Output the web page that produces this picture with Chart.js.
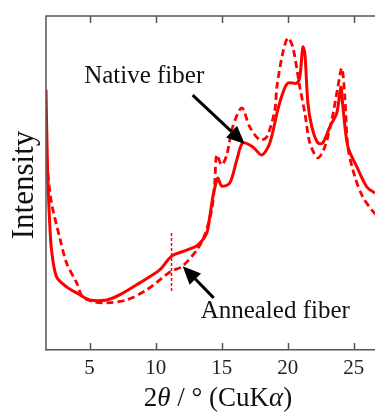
<!DOCTYPE html>
<html>
<head>
<meta charset="utf-8">
<script src="https://cdn.jsdelivr.net/npm/chart.js@4.4.1/dist/chart.umd.min.js"></script>
<style>
  html, body { margin: 0; padding: 0; background: #fff; }
  #wrap { width: 375px; height: 412px; position: relative; }
</style>
</head>
<body>
<div id="wrap"><canvas id="xrd"></canvas></div>
<script>
// --- data (2theta in degrees, intensity in arbitrary units 0-100) ---
const nativeTheta = [1.70, 1.82, 1.97, 2.12, 2.50, 3.26, 4.02, 5.0, 6.29, 7.27, 8.79, 10.30, 11.21, 12.35, 13.18,
    13.86, 14.09, 14.32, 14.47, 14.70, 15.0, 15.61, 16.14, 16.59, 17.35, 18.03, 18.64, 19.24, 19.62, 20.0,
    20.68, 20.91, 21.14, 21.29, 21.52, 21.82, 22.27, 22.65, 23.18, 23.71, 24.02, 24.17, 24.55, 25.23, 25.98, 26.6];
const nativeIntensity = [78.0, 53.9, 38.9, 29.9, 21.9, 18.9, 17.1, 15.0, 15.0, 16.5, 20.1, 24.0, 28.1, 29.9, 31.4,
    35.0, 39.8, 45.8, 48.5, 51.5, 49.1, 50.0, 56.9, 62.0, 60.8, 58.4, 62.0, 71.9, 76.9, 79.9,
    79.9, 81.7, 90.7, 88.9, 74.0, 66.8, 62.0, 62.0, 66.8, 71.0, 78.7, 72.8, 60.8, 54.8, 48.8, 47.0];

const annealedTheta = [1.59, 1.67, 1.82, 2.12, 2.73, 3.26, 4.02, 4.47, 5.38, 6.29, 7.80, 9.32, 11.21, 11.97, 13.11,
    13.71, 14.24, 14.47, 14.62, 15.0, 15.38, 15.83, 16.52, 17.12, 17.88, 18.41, 19.02, 19.17, 19.62, 20.0,
    20.38, 20.91, 21.29, 21.67, 22.27, 22.80, 23.33, 23.79, 24.09, 24.32, 24.55, 25.08, 25.68, 26.36, 26.8];
const annealedIntensity = [80.2, 65.9, 53.9, 44.0, 33.8, 26.0, 20.1, 15.9, 14.4, 14.1, 15.0, 18.0, 23.7, 24.9, 29.9,
    34.4, 41.9, 50.0, 58.4, 55.4, 58.4, 66.8, 72.5, 66.8, 62.9, 63.8, 71.9, 78.7, 88.9, 93.4,
    90.7, 78.7, 71.0, 62.0, 57.5, 60.8, 68.9, 78.7, 84.4, 75.7, 60.8, 51.8, 45.8, 41.9, 40.1];

// dotted marker line near 11.2 deg
const markerTheta = [11.2, 11.2];
const markerIntensity = [35.0, 17.4];

const xTicks = [5, 10, 15, 20, 25];

const toPoints = (xs, ys) => xs.map((x, i) => ({ x, y: ys[i] }));

const RED = '#ff0000';
const SERIF = '"Liberation Serif", "DejaVu Serif", serif';

// frame, inward ticks, labels, arrows and axis titles
const decor = {
    id: 'decor',
    afterDraw(chart) {
        const { ctx, chartArea: a, scales: { x, y } } = chart;
        ctx.save();

        // frame (left, top) - bottom comes from the x axis border
        ctx.strokeStyle = '#555';
        ctx.lineWidth = 1.5;
        ctx.beginPath();
        ctx.moveTo(a.left, a.bottom);
        ctx.lineTo(a.left, a.top);
        ctx.lineTo(a.right, a.top);
        // inward ticks top and bottom
        x.ticks.forEach(t => {
            const px = Math.round(x.getPixelForValue(t.value)) + 0.5;
            ctx.moveTo(px, a.top);
            ctx.lineTo(px, a.top + 7);
            ctx.moveTo(px, a.bottom);
            ctx.lineTo(px, a.bottom - 7);
        });
        ctx.stroke();

        // arrows
        const arrow = (x0, y0, x1, y1) => {
            const ax = x.getPixelForValue(x0), ay = y.getPixelForValue(y0);
            const bx = x.getPixelForValue(x1), by = y.getPixelForValue(y1);
            const ang = Math.atan2(by - ay, bx - ax);
            const hl = 18, hw = 8;
            const cx = bx - hl * Math.cos(ang), cy = by - hl * Math.sin(ang);
            ctx.strokeStyle = '#000';
            ctx.fillStyle = '#000';
            ctx.lineWidth = 3;
            ctx.beginPath();
            ctx.moveTo(ax, ay);
            ctx.lineTo(cx, cy);
            ctx.stroke();
            ctx.beginPath();
            ctx.moveTo(bx, by);
            ctx.lineTo(cx + hw * Math.sin(ang), cy - hw * Math.cos(ang));
            ctx.lineTo(cx - hw * Math.sin(ang), cy + hw * Math.cos(ang));
            ctx.closePath();
            ctx.fill();
        };
        arrow(12.8, 76.3, 16.74, 61.7);
        arrow(14.39, 15.6, 12.05, 25.1);

        // curve labels
        ctx.fillStyle = '#111';
        ctx.font = '25px ' + SERIF;
        ctx.textAlign = 'center';
        ctx.textBaseline = 'alphabetic';
        ctx.fillText('Native fiber', x.getPixelForValue(9.13), y.getPixelForValue(79.9));
        ctx.fillText('Annealed fiber', x.getPixelForValue(19.05), y.getPixelForValue(9.6));

        // y title
        ctx.save();
        ctx.translate(33, 185);
        ctx.rotate(-Math.PI / 2);
        ctx.font = '31px ' + SERIF;
        ctx.fillText('Intensity', 0, 0);
        ctx.restore();

        // x title: 2θ / ° (CuKα) with italic greek letters
        const parts = [
            ['2', ''], ['θ', 'italic '], [' /', ''], [' °', ''], [' (CuK', ''], ['α', 'italic '], [')', '']
        ];
        const size = 27;
        let total = 0;
        parts.forEach(p => { ctx.font = p[1] + size + 'px ' + SERIF; total += ctx.measureText(p[0]).width; });
        let px = 218 - total / 2;
        ctx.textAlign = 'left';
        parts.forEach(p => {
            ctx.font = p[1] + size + 'px ' + SERIF;
            ctx.fillText(p[0], px, 406);
            px += ctx.measureText(p[0]).width;
        });

        ctx.restore();
    }
};

new Chart(document.getElementById('xrd'), {
    type: 'line',
    data: {
        datasets: [
            {
                label: 'Native fiber',
                data: toPoints(nativeTheta, nativeIntensity),
                borderColor: RED,
                borderWidth: 3,
                pointRadius: 0,
                tension: 0.3,
                fill: false
            },
            {
                label: 'Annealed fiber',
                data: toPoints(annealedTheta, annealedIntensity),
                borderColor: RED,
                borderWidth: 2.8,
                borderDash: [7, 4],
                pointRadius: 0,
                tension: 0.3,
                fill: false
            },
            {
                label: 'marker',
                data: toPoints(markerTheta, markerIntensity),
                borderColor: RED,
                borderWidth: 1.5,
                borderDash: [3, 2],
                pointRadius: 0,
                fill: false
            }
        ]
    },
    options: {
        responsive: true,
        maintainAspectRatio: false,
        animation: false,
        layout: { padding: { top: 16, left: 46, right: 0, bottom: 0 } },
        plugins: {
            legend: { display: false },
            tooltip: { enabled: false }
        },
        scales: {
            x: {
                type: 'linear',
                min: 1.7,
                max: 26.6,
                afterBuildTicks: scale => { scale.ticks = xTicks.map(v => ({ value: v })); },
                afterFit: scale => { scale.height = 62; },
                grid: { display: false, drawTicks: false },
                border: { display: true, color: '#555', width: 1.5 },
                ticks: {
                    color: '#222',
                    padding: 6,
                    maxRotation: 0,
                    font: { family: SERIF, size: 21 }
                }
            },
            y: {
                display: false,
                min: 0,
                max: 100
            }
        }
    },
    plugins: [decor]
});
</script>
</body>
</html>
